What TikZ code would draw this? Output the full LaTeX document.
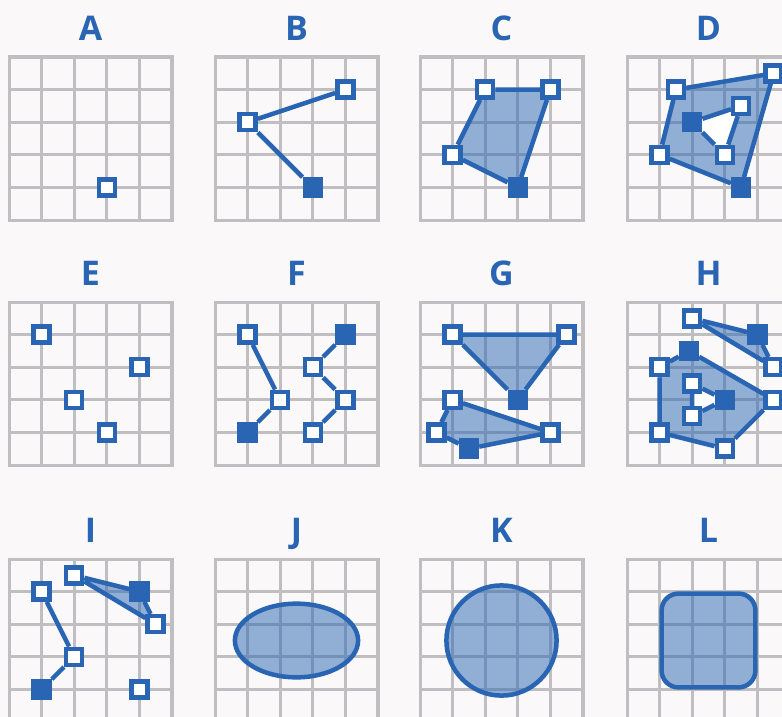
\documentclass[tikz,border=0pt]{standalone}
\usepackage{fontspec}
\setmainfont{Open Sans}
\usetikzlibrary{positioning}
\definecolor{pblue}{RGB}{41,101,178}
\definecolor{gridgray}{RGB}{191,191,193}
\definecolor{paper}{RGB}{250,248,249}
\pgfdeclarelayer{gridlayer}
\pgfdeclarelayer{shade}
\pgfsetlayers{gridlayer,shade,main}
\tikzset{
  gridline/.style={draw=gridgray, line width=3pt, step=1},
  vtx/.style={rectangle, draw=pblue, fill=white, line width=4.5pt, minimum size=16pt, inner sep=0pt},
  vtxf/.style={vtx, fill=pblue},
  edge/.style={draw=pblue, line width=4.5pt},
  region/.style={fill=pblue, fill opacity=0.5},
  hole/.style={fill=white},
  lbl/.style={text=pblue, font=\fontsize{34}{34}\selectfont\bfseries, anchor=base},
}
\newcommand{\gridpanel}[1]{%
  \begin{pgfonlayer}{gridlayer}
    \draw[gridline] (0,0) grid (5,5);
    \draw[gridline] (0,0) rectangle (5,5);
  \end{pgfonlayer}
  \node[lbl] (lbl#1) at (2.5,5.52) {#1};}

\begin{document}
\begin{tikzpicture}[x=1pt,y=1pt]
  \useasboundingbox (0,-717) rectangle (782,0);
  \begin{pgfonlayer}{gridlayer}
    \fill[paper] (0,-717) rectangle (782,0);
  \end{pgfonlayer}

  % A: single vertex
  \begin{scope}[shift={(9,-220)},x=32.6pt,y=32.6pt]
    \gridpanel{A}
    \node[vtx] (a1) at (3,1) {};
  \end{scope}

  % B: polyline
  \begin{scope}[shift={(215,-220)},x=32.6pt,y=32.6pt]
    \gridpanel{B}
    \node[vtx] (b1) at (4,4) {};
    \node[vtx] (b2) at (1,3) {};
    \node[vtxf] (b3) at (3,1) {};
    \draw[edge] (b1) -- (b2) -- (b3);
  \end{scope}

  % C: polygon
  \begin{scope}[shift={(420,-220)},x=32.6pt,y=32.6pt]
    \gridpanel{C}
    \node[vtx] (c1) at (2,4) {};
    \node[vtx] (c2) at (4,4) {};
    \node[vtxf] (c3) at (3,1) {};
    \node[vtx] (c4) at (1,2) {};
    \begin{pgfonlayer}{shade}
      \fill[region] (c1.center) -- (c2.center) -- (c3.center) -- (c4.center) -- cycle;
    \end{pgfonlayer}
    \draw[edge] (c1) -- (c2) -- (c3) -- (c4) -- (c1);
  \end{scope}

  % D: polygon with hole
  \begin{scope}[shift={(627,-220)},x=32.6pt,y=32.6pt]
    \gridpanel{D}
    \node[vtx] (d1) at (1.5,4) {};
    \node[vtx] (d2) at (4.5,4.5) {};
    \node[vtxf] (d3) at (3.5,1) {};
    \node[vtx] (d4) at (1,2) {};
    \node[vtxf] (d5) at (2,3) {};
    \node[vtx] (d6) at (3.5,3.5) {};
    \node[vtx] (d7) at (3,2) {};
    \begin{pgfonlayer}{shade}
      \fill[region] (d1.center) -- (d2.center) -- (d3.center) -- (d4.center) -- cycle;
      \fill[hole] (d5.center) -- (d6.center) -- (d7.center) -- cycle;
    \end{pgfonlayer}
    \draw[edge] (d1) -- (d2) -- (d3) -- (d4) -- (d1);
    \draw[edge] (d5) -- (d6) -- (d7) -- (d5);
  \end{scope}

  % E: points
  \begin{scope}[shift={(9,-465)},x=32.6pt,y=32.6pt]
    \gridpanel{E}
    \node[vtx] (e1) at (1,4) {};
    \node[vtx] (e2) at (4,3) {};
    \node[vtx] (e3) at (2,2) {};
    \node[vtx] (e4) at (3,1) {};
  \end{scope}

  % F: two polylines
  \begin{scope}[shift={(215,-465)},x=32.6pt,y=32.6pt]
    \gridpanel{F}
    \node[vtx] (f1) at (1,4) {};
    \node[vtx] (f2) at (2,2) {};
    \node[vtxf] (f3) at (1,1) {};
    \node[vtxf] (f4) at (4,4) {};
    \node[vtx] (f5) at (3,3) {};
    \node[vtx] (f6) at (4,2) {};
    \node[vtx] (f7) at (3,1) {};
    \draw[edge] (f1) -- (f2) -- (f3);
    \draw[edge] (f4) -- (f5) -- (f6) -- (f7);
  \end{scope}

  % G: two polygons
  \begin{scope}[shift={(420,-465)},x=32.6pt,y=32.6pt]
    \gridpanel{G}
    \node[vtx] (g1) at (1,4) {};
    \node[vtx] (g2) at (4.5,4) {};
    \node[vtxf] (g3) at (3,2) {};
    \node[vtx] (g4) at (1,2) {};
    \node[vtx] (g5) at (4,1) {};
    \node[vtxf] (g6) at (1.5,0.5) {};
    \node[vtx] (g7) at (0.5,1) {};
    \begin{pgfonlayer}{shade}
      \fill[region] (g1.center) -- (g2.center) -- (g3.center) -- cycle;
      \fill[region] (g4.center) -- (g5.center) -- (g6.center) -- (g7.center) -- cycle;
    \end{pgfonlayer}
    \draw[edge] (g1) -- (g2) -- (g3) -- (g1);
    \draw[edge] (g4) -- (g5) -- (g6) -- (g7) -- (g4);
  \end{scope}

  % H: polygons, one with hole
  \begin{scope}[shift={(627,-465)},x=32.6pt,y=32.6pt]
    \gridpanel{H}
    \node[vtx] (h1) at (2,4.5) {};
    \node[vtxf] (h2) at (4,4) {};
    \node[vtx] (h3) at (4.5,3) {};
    \node[vtxf] (h4) at (1.9,3.5) {};
    \node[vtx] (h5) at (4.5,2) {};
    \node[vtx] (h6) at (3,0.5) {};
    \node[vtx] (h7) at (1,1) {};
    \node[vtx] (h8) at (1,3) {};
    \node[vtx] (h9) at (2,2.5) {};
    \node[vtxf] (h10) at (3,2) {};
    \node[vtx] (h11) at (2,1.5) {};
    \begin{pgfonlayer}{shade}
      \fill[region] (h1.center) -- (h2.center) -- (h3.center) -- cycle;
      \fill[region] (h4.center) -- (h5.center) -- (h6.center) -- (h7.center) -- (h8.center) -- cycle;
      \fill[hole] (h9.center) -- (h10.center) -- (h11.center) -- cycle;
    \end{pgfonlayer}
    \draw[edge] (h1) -- (h2) -- (h3) -- (h1);
    \draw[edge] (h4) -- (h5) -- (h6) -- (h7) -- (h8) -- (h4);
    \draw[edge] (h9) -- (h10) -- (h11) -- (h9);
  \end{scope}

  % I: mixed
  \begin{scope}[shift={(9,-722)},x=32.6pt,y=32.6pt]
    \gridpanel{I}
    \node[vtx] (i1) at (2,4.5) {};
    \node[vtxf] (i2) at (4,4) {};
    \node[vtx] (i3) at (4.5,3) {};
    \node[vtx] (i4) at (1,4) {};
    \node[vtx] (i5) at (2,2) {};
    \node[vtxf] (i6) at (1,1) {};
    \node[vtx] (i7) at (4,1) {};
    \begin{pgfonlayer}{shade}
      \fill[region] (i1.center) -- (i2.center) -- (i3.center) -- cycle;
    \end{pgfonlayer}
    \draw[edge] (i1) -- (i2) -- (i3) -- (i1);
    \draw[edge] (i4) -- (i5) -- (i6);
  \end{scope}

  % J: ellipse
  \begin{scope}[shift={(215,-722)},x=32.6pt,y=32.6pt]
    \gridpanel{J}
    \filldraw[edge, region] (2.5,2.5) ellipse [x radius=1.89, y radius=1.13];
  \end{scope}

  % K: circle
  \begin{scope}[shift={(420,-722)},x=32.6pt,y=32.6pt]
    \gridpanel{K}
    \filldraw[edge, region] (2.5,2.5) circle [radius=1.69];
  \end{scope}

  % L: rounded square
  \begin{scope}[shift={(627,-722)},x=32.6pt,y=32.6pt]
    \gridpanel{L}
    \filldraw[edge, region, rounded corners=17pt] (1.06,1.06) rectangle (3.94,3.94);
  \end{scope}
\end{tikzpicture}
\end{document}
